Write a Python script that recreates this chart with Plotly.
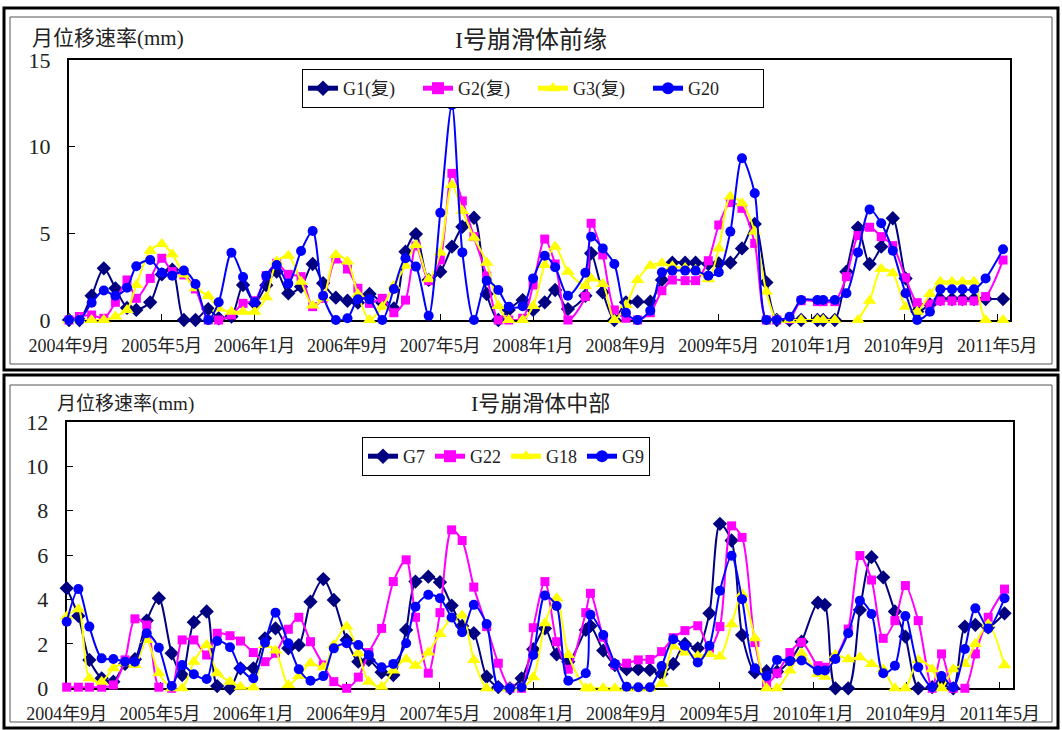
import plotly.graph_objects as go

W, H = 1062, 730

# ---- time axis (months counted from 2004-09) ----
tick_months = [0, 8, 16, 24, 32, 40, 48, 56, 64, 72, 80]
tick_labels = ["2004年9月", "2005年5月", "2006年1月", "2006年9月", "2007年5月",
               "2008年1月", "2008年9月", "2009年5月", "2010年1月", "2010年9月", "2011年5月"]

# ---- I号崩滑体前缘 ----
front_months = [0, 0.9, 1.95, 3, 4, 5, 5.8, 7, 8, 8.9,
                9.9, 10.9, 12, 12.9, 14, 15, 16, 17, 17.9, 18.9,
                20, 21, 21.9, 23, 24, 24.9, 25.9, 27, 28, 29,
                29.9, 31, 32, 33, 33.9, 34.9, 36, 37, 37.9, 39.1,
                40, 41, 41.9, 43, 44.5, 45, 46, 47, 48, 49,
                50.1, 51.1, 52, 53.1, 54, 55.1, 56, 57, 58, 59.1,
                60.1, 61, 62.1, 63.1, 64.5, 65, 66, 67, 68, 69,
                70, 71, 72.1, 73.1, 74.2, 75.1, 76.1, 77, 78, 79,
                80.5]
g1 = [0, 0, 1.4, 2.98, 1.83, 0.7, 0.58, 1.02, 2.63, 2.9,
      0, 0, 0.63, 0.1, 0.2, 2.02, 0.96, 2.0, 2.79, 1.54,
      1.92, 3.23, 2.12, 1.29, 1.11, 1.0, 1.5, 1.0, 0.67, 3.94,
      4.96, 2.31, 2.79, 4.23, 5.38, 5.9, 1.5, 0, 0.58, 1.15,
      0.58, 1.02, 1.73, 0.63, 1.4, 3.85, 1.6, 0, 1.02, 1.06,
      1.06, 2.31, 3.31, 3.31, 3.31, 3.23, 3.27, 3.31, 4.13, 5.54,
      2.17, 0, 0, 0, 0, 0, 0, 2.79, 5.33, 3.23,
      4.23, 5.87, 2.4, 0.48, 0.9, 1.21, 1.21, 1.21, 1.21, 1.21,
      1.21]
g2 = [0, 0.2, 0.29, 0.1, 1.02, 2.31, 1.25, 2.4, 3.56, 2.79,
      2.6, 1.79, 0, 0, 0.29, 0.96, 1.11, 2.56, 3.27, 2.63,
      2.5, 0.77, 1.25, 3.52, 2.94, 1.83, 0.96, 1.25, 0.42, 1.15,
      4.27, 2.27, 3.46, 8.46, 6.87, 4.81, 2.54, 0, 0, 0.1,
      2.02, 4.67, 3.23, 0, 1.35, 5.58, 3.75, 0.58, 0.1, 0,
      0.42, 1.69, 2.31, 2.27, 2.27, 3.42, 5.48, 6.77, 6.44, 4.42,
      0, 0, 0.05, 1.11, 1.06, 1.06, 1.06, 2.5, 4.87, 5.35,
      4.81, 4.29, 2.44, 1.0, 0.92, 1.1, 1.1, 1.1, 1.1, 1.35,
      3.46]
g3 = [0, 0, 0, 0, 0.2, 0.58, 2.02, 4.0, 4.38, 3.79,
      2.63, 1.83, 1.38, 0.67, 0.48, 0.48, 0.48, 1.31, 3.37, 3.71,
      2.21, 0.83, 1.25, 3.75, 3.37, 1.48, 0, 0.77, 1.98, 3.13,
      4.33, 2.35, 3.9, 7.79, 6.29, 4.75, 3.31, 0.81, 0, 0,
      0.81, 3.17, 4.23, 2.79, 1.96, 2.4, 2.08, 0, 0.87, 2.31,
      3.13, 3.27, 3.1, 3.0, 2.9, 2.35, 4.13, 7.12, 6.73, 5.1,
      1.63, 0, 0, 0, 0, 0, 0, None, 0, 1.11,
      2.94, 2.69, 0.77, 0.48, 1.5, 2.21, 2.21, 2.21, 2.21, 0,
      0]
g20 = [0, 0, 1.0, 1.7, 1.4, 1.86, 3.1, 3.46, 2.73, 2.56,
       2.85, 2.08, 0, 1.02, 3.88, 2.48, 1.02, 2.56, 3.17, 2.1,
       3.98, 5.13, 1.4, 0, 0.1, 1.19, 1.19, 0, 1.79, 3.56,
       3.08, 0.25, 6.19, 12.4, 3.9, 0, 2.27, 1.73, 0.77, 0.8,
       2.4, 3.71, 3.04, 1.4, 2.73, 4.81, 4.13, 3.23, 0.42, 0,
       0.54, 2.75, 2.85, 2.85, 2.85, 2.56, 2.75, 5.1, 9.33, 7.31,
       0, 0, 0.19, 1.15, 1.15, 1.15, 1.15, 1.54, 3.9, 6.38,
       5.58, 4.0, 1.54, 0, 0.48, 1.77, 1.77, 1.77, 1.77, 2.4,
       4.08]

# ---- I号崩滑体中部 ----
mid_months = [0, 1, 1.94, 3, 4, 5, 5.85, 6.86, 7.9, 9,
              9.9, 10.9, 12, 12.9, 14, 14.9, 16, 17, 17.9, 19,
              19.9, 20.9, 22, 22.9, 24, 25, 25.9, 27, 28, 29.1,
              29.9, 31, 32, 33, 33.9, 34.9, 36, 37, 38, 39,
              40, 41, 42, 43, 44.5, 44.9, 46, 47, 48, 49,
              50, 51, 52, 53, 54.1, 55.1, 56, 57, 57.9, 59,
              60, 60.9, 62, 63, 64.4, 65, 65.9, 67, 68, 69,
              70, 71, 71.9, 73, 74.2, 75, 76, 77, 77.9, 79,
              80.4]
g7 = [4.51, 3.26, 1.28, 0.45, 0.3, 1.1, 1.31, 3.05, 4.06, 1.58,
      0.6, 2.98, 3.46, 0.1, 0, 0.9, 0.9, 2.25, 2.7, 1.8,
      1.95, 3.9, 4.92, 3.98, 2.18, 1.2, 1.28, 0.72, 0.6, 2.63,
      4.81, 5.03, 4.78, 3.73, 2.81, 2.48, 0.52, 0.05, 0, 0.45,
      1.76, 2.7, 1.53, 1.2, 2.63, 2.81, 1.7, 1.05, 0.86, 0.86,
      0.83, 0.65, 1.1, 2.0, 1.8, 3.38, 7.41, 6.66, 2.4, 0.72,
      0.77, 0.75, 1.25, 2.1, 3.86, 3.76, 0, 0, 3.53, 5.91,
      5.0, 3.46, 2.33, 0, 0.05, 0.2, 0, 2.78, 2.86, 2.75,
      3.38]
g22 = [0.05, 0.05, 0.05, 0.05, 0.15, 1.28, 3.13, 2.85, 0.05, 0,
       2.18, 2.18, 1.5, 2.48, 2.37, 2.13, 1.61, 1.2, 1.58, 2.66,
       3.2, 2.1, 1.05, 0.3, 0, 0.5, 1.61, 2.7, 4.81, 5.79,
       3.2, 0.68, 3.41, 7.14, 6.66, 4.56, 2.78, 1.13, 0, 0,
       2.73, 4.81, 2.1, 0.86, 3.41, 4.28, 2.3, 1.05, 1.13, 1.28,
       1.3, 1.65, 2.28, 2.6, 2.82, 1.8, 2.78, 7.32, 6.8, 2.06,
       0.23, 0.68, 1.61, 2.07, 1.02, 0.95, 1.38, 2.67, 5.98, 4.88,
       2.25, 3.05, 4.63, 3.05, 0, 1.55, 0, 0, 1.55, 3.2,
       4.47]
g18 = [3.23, 3.56, 0.45, 0.3, 0.9, 1.13, 1.05, 2.18, 0.68, 0,
       0, 1.2, 1.95, 0.68, 0.3, 0.07, 0.05, 1.95, 1.7, 0.15,
       0.55, 1.13, 0.95, 1.95, 2.78, 1.58, 0.3, 0.07, 0.8, 1.31,
       1.02, 1.61, 2.45, 3.16, 3.28, 1.28, 0, 0, 0, 0.05,
       0.5, 2.93, 4.06, 1.5, 0, 0, 0, 0, 0, 0,
       0, 0.2, 1.88, 1.61, 1.45, 1.55, 1.43, 2.89, 4.25, 2.25,
       0, 0, 0.8, 1.58, 0.65, 0.52, 1.5, 1.31, 1.4, 1.1,
       0.86, 0, 0, 1.28, 0.86, 0, 0.86, 1.1, 2.0, 2.89,
       1.04]
g9 = [3.0, 4.47, 2.78, 1.35, 1.32, 1.2, 1.2, 2.48, 1.83, 0.1,
      1.05, 0.63, 0.42, 2.13, 1.85, 0.9, 0.45, 2.06, 3.41, 2.03,
      0.86, 0.34, 0.55, 1.8, 2.03, 1.95, 1.5, 0.95, 1.1, 2.03,
      3.68, 4.21, 4.06, 3.19, 2.53, 3.76, 2.9, 0.05, 0, 0.05,
      1.5, 4.18, 3.71, 0.34, 0.68, 3.31, 2.4, 1.1, 0.07, 0.05,
      0.05, 1.0, 2.21, 1.92, 1.16, 1.92, 4.4, 5.97, 4.01, 0.9,
      0.55, 1.28, 1.23, 1.25, 0.8, 0.8, 1.32, 2.48, 3.95, 3.35,
      0.68, 1.02, 3.26, 0.95, 0.05, 0.55, 0.05, 1.77, 3.61, 2.7,
      4.06]

SERIF = "Liberation Serif, Noto Sans CJK SC, serif"
NAVY, MAGENTA, YELLOW, BLUE = "#000080", "#FF00FF", "#FFFF00", "#0000FF"


def px_x(x):
    return x / W


def px_y(y):
    return 1 - y / H


def series(name, x, y, color, symbol, size, xa, ya, legend):
    return go.Scatter(
        x=x, y=y, name=name, mode="lines+markers",
        line=dict(color=color, width=2, shape="spline", smoothing=0.8),
        marker=dict(color=color, symbol=symbol, size=size, line=dict(width=0)),
        xaxis=xa, yaxis=ya, legend=legend, cliponaxis=False, connectgaps=False,
    )


fig = go.Figure()
fig.add_trace(series("G1(复)", front_months, g1, NAVY, "diamond", 11, "x", "y", "legend"))
fig.add_trace(series("G2(复)", front_months, g2, MAGENTA, "square", 9, "x", "y", "legend"))
fig.add_trace(series("G3(复)", front_months, g3, YELLOW, "triangle-up", 12, "x", "y", "legend"))
fig.add_trace(series("G20", front_months, g20, BLUE, "circle", 10, "x", "y", "legend"))

fig.add_trace(series("G7", mid_months, g7, NAVY, "diamond", 11, "x2", "y2", "legend2"))
fig.add_trace(series("G22", mid_months, g22, MAGENTA, "square", 9, "x2", "y2", "legend2"))
fig.add_trace(series("G18", mid_months, g18, YELLOW, "triangle-up", 12, "x2", "y2", "legend2"))
fig.add_trace(series("G9", mid_months, g9, BLUE, "circle", 10, "x2", "y2", "legend2"))

xaxis_common = dict(
    tickmode="array", tickvals=tick_months, ticktext=tick_labels,
    range=[0, 81.1], showgrid=False, zeroline=False,
    showline=True, linecolor="black", linewidth=2, mirror=True,
    ticks="inside", ticklen=6, tickwidth=1, tickcolor="black",
    tickfont=dict(family=SERIF, size=18, color="#222"),
    layer="below traces", ticklabelstandoff=8, automargin=False,
)
yaxis_common = dict(
    showgrid=False, zeroline=False,
    showline=True, linecolor="black", linewidth=2, mirror=True,
    ticks="inside", ticklen=6, tickwidth=1, tickcolor="black",
    tickfont=dict(family=SERIF, size=22, color="#222"),
    layer="below traces", ticklabelstandoff=12, automargin=False,
)

fig.update_layout(
    width=W, height=H, autosize=False,
    margin=dict(l=0, r=0, t=0, b=0, pad=0, autoexpand=False),
    paper_bgcolor="white", plot_bgcolor="white",
    xaxis=dict(**xaxis_common, domain=[px_x(69), px_x(1010)], anchor="y"),
    yaxis=dict(**yaxis_common, domain=[px_y(320), px_y(60)], anchor="x",
               range=[0, 15], tickvals=[0, 5, 10, 15]),
    xaxis2=dict(**xaxis_common, domain=[px_x(66.7), px_x(1012.7)], anchor="y2"),
    yaxis2=dict(**yaxis_common, domain=[px_y(688.3), px_y(422)], anchor="x2",
                range=[0, 12], tickvals=[0, 2, 4, 6, 8, 10, 12]),
    legend=dict(
        orientation="h", x=px_x(302), y=px_y(69), xanchor="left", yanchor="top",
        bgcolor="white", bordercolor="black", borderwidth=1,
        font=dict(family=SERIF, size=18, color="#222"),
        entrywidth=70, itemsizing="constant",
    ),
    legend2=dict(
        orientation="h", x=px_x(362), y=px_y(437), xanchor="left", yanchor="top",
        bgcolor="white", bordercolor="black", borderwidth=1,
        font=dict(family=SERIF, size=18, color="#222"),
        itemsizing="constant",
    ),
    showlegend=True,
)

# chart frames
frames = [
    (4, 8, 1058, 370, "black", 3),
    (10, 17, 1052, 364, "#555", 1),
    (4, 375, 1058, 728, "black", 3),
    (10, 385, 1052, 722, "#555", 1),
]
for x0, y0, x1, y1, col, wdt in frames:
    fig.add_shape(type="rect", xref="paper", yref="paper",
                  x0=px_x(x0), y0=px_y(y0), x1=px_x(x1), y1=px_y(y1),
                  line=dict(color=col, width=wdt), fillcolor="rgba(0,0,0,0)", layer="above")

texts = [
    (30, 38, "月位移速率(mm)", "left", 21),
    (531, 40, "I号崩滑体前缘", "center", 24),
    (55, 404, "月位移速率(mm)", "left", 19),
    (540, 403, "I号崩滑体中部", "center", 22),
]
for x, y, t, anchor, size in texts:
    fig.add_annotation(xref="paper", yref="paper", x=px_x(x), y=px_y(y), text=t,
                       showarrow=False, xanchor=anchor, yanchor="middle",
                       font=dict(family=SERIF, size=size, color="#222"))

fig.write_html("out.html")
